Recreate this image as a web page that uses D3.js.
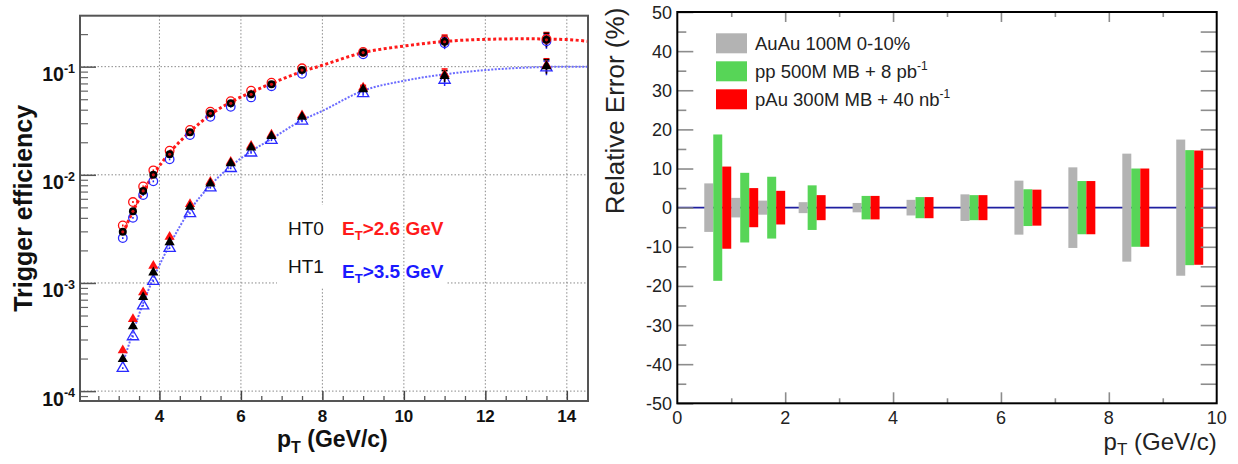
<!DOCTYPE html>
<html>
<head>
<meta charset="utf-8">
<script src="https://cdn.jsdelivr.net/npm/d3@7"></script>
<style>
  html, body { margin: 0; padding: 0; background: #fff; }
  svg { display: block; font-family: "Liberation Sans", Arial, Helvetica, sans-serif; }
</style>
</head>
<body>
<script>
// ---------- Left panel: trigger efficiency vs pT ----------
const ptHT = [3.1, 3.35, 3.6, 3.85, 4.25, 4.75, 5.25, 5.75, 6.25, 6.75, 7.5, 9, 11, 13.5];

const ht0Black = [2.97e-3, 4.6e-3, 7.1e-3, 1.0e-2, 1.55e-2, 2.47e-2, 3.7e-2, 4.58e-2, 5.55e-2, 6.87e-2, 9.3e-2, 0.135, 0.17, 0.177];
const ht0Red   = [3.4e-3, 5.6e-3, 7.8e-3, 1.1e-2, 1.67e-2, 2.6e-2, 3.83e-2, 4.8e-2, 6.0e-2, 7.1e-2, 9.66e-2, 0.137, 0.175, 0.18];
const ht0Blue  = [2.6e-3, 4.0e-3, 6.5e-3, 8.7e-3, 1.39e-2, 2.33e-2, 3.44e-2, 4.26e-2, 5.2e-2, 6.6e-2, 8.6e-2, 0.13, 0.165, 0.172];

const ht1Black = [1.98e-4, 3.97e-4, 7.4e-4, 1.25e-3, 2.38e-3, 5.06e-3, 8.3e-3, 1.28e-2, 1.79e-2, 2.28e-2, 3.44e-2, 6.18e-2, 8.2e-2, 0.101];
const ht1Red   = [2.38e-4, 4.64e-4, 8.2e-4, 1.44e-3, 2.67e-3, 5.36e-3, 8.6e-3, 1.32e-2, 1.85e-2, 2.35e-2, 3.55e-2, 6.4e-2, 8.5e-2, 0.103];
const ht1Blue  = [1.63e-4, 3.2e-4, 6.17e-4, 1.04e-3, 2.1e-3, 4.4e-3, 7.6e-3, 1.15e-2, 1.6e-2, 2.09e-2, 3.16e-2, 5.67e-2, 7.53e-2, 0.098];

// relative uncertainty of each point
const relErr = [0.02, 0.02, 0.02, 0.02, 0.02, 0.02, 0.02, 0.02, 0.02, 0.02, 0.03, 0.05, 0.12, 0.15];

// fitted turn-on curves
const fitPt  = [3.1, 3.35, 3.6, 3.85, 4.25, 4.75, 5.25, 5.75, 6.25, 6.75, 7.5, 8, 9, 10, 11, 12, 13, 14, 14.5];
const fitHT0 = [2.9e-3, 4.6e-3, 7.0e-3, 1.0e-2, 1.6e-2, 2.5e-2, 3.6e-2, 4.7e-2, 5.8e-2, 7.0e-2, 9.0e-2, 0.103, 0.135, 0.155, 0.171, 0.179, 0.181, 0.178, 0.172];
const fitHT1 = [1.8e-4, 3.5e-4, 6.5e-4, 1.1e-3, 2.25e-3, 4.7e-3, 8.0e-3, 1.2e-2, 1.65e-2, 2.15e-2, 3.2e-2, 3.9e-2, 6.0e-2, 7.4e-2, 8.5e-2, 9.3e-2, 9.8e-2, 1.0e-1, 1.0e-1];

const leftXTicks = [4, 6, 8, 10, 12, 14];
const leftYDecades = [1e-4, 1e-3, 1e-2, 1e-1];
const leftYExponents = ["-4", "-3", "-2", "-1"];

// ---------- Right panel: projected relative error ----------
const binCenters = [0.75, 1.25, 1.75, 2.5, 3.5, 4.5, 5.5, 6.5, 7.5, 8.5, 9.5];
const errAuAu = [6.2, 2.5, 1.8, 1.4, 1.2, 2.0, 3.4, 6.9, 10.3, 13.8, 17.4];
const errPP   = [18.7, 8.9, 7.9, 5.7, 3.0, 2.7, 3.2, 4.7, 6.8, 10.0, 14.7];
const errPAu  = [10.5, 5.0, 4.3, 3.2, 3.0, 2.7, 3.2, 4.6, 6.8, 10.0, 14.6];
const rightXTicks = [0, 2, 4, 6, 8, 10];
const rightYTicks = [-50, -40, -30, -20, -10, 0, 10, 20, 30, 40, 50];

const W = 1238, H = 464;
const svg = d3.select("body").append("svg").attr("width", W).attr("height", H);

// =============== LEFT PANEL ===============
const L = { x0: 80, x1: 588, y0: 15.7, y1: 401 };
const xL = d3.scaleLinear().domain([2.05, 14.52]).range([L.x0, L.x1]);
const yL = d3.scaleLog().domain([8.1e-5, 0.296]).range([L.y1, L.y0]);

const gL = svg.append("g");

// dotted grid
const gridStyle = sel => sel.attr("stroke", "#8a8a8a").attr("stroke-width", 1).attr("stroke-dasharray", "1.5,2");
gL.selectAll("line.gx").data(leftXTicks).join("line").attr("class", "gx")
  .attr("x1", d => xL(d)).attr("x2", d => xL(d)).attr("y1", L.y0).attr("y2", L.y1).call(gridStyle);
gL.selectAll("line.gy").data(leftYDecades).join("line").attr("class", "gy")
  .attr("x1", L.x0).attr("x2", L.x1).attr("y1", d => yL(d)).attr("y2", d => yL(d)).call(gridStyle);

// white panel behind the trigger labels
gL.append("rect").attr("x", 277).attr("y", 205).attr("width", 169).attr("height", 83).attr("fill", "#fff");
gL.append("line").attr("x1", xL(10)).attr("x2", xL(10)).attr("y1", 205).attr("y2", 288).call(gridStyle);

// y axis ticks (log: majors at decades, minors 2..9)
const minorY = [];
[1e-5, 1e-4, 1e-3, 1e-2, 1e-1].forEach(dec => {
  for (let k = 2; k <= 9; k++) {
    const v = dec * k;
    if (v > 8.1e-5 && v < 0.296) minorY.push(v);
  }
});
gL.append("g").attr("transform", `translate(${L.x0},0)`)
  .call(d3.axisRight(yL).tickValues(minorY).tickSize(8).tickFormat(""))
  .call(g => g.select(".domain").remove())
  .call(g => g.selectAll("line").attr("stroke", "#666").attr("stroke-width", 1.2));
gL.append("g").attr("transform", `translate(${L.x0},0)`)
  .call(d3.axisRight(yL).tickValues(leftYDecades).tickSize(16).tickFormat(""))
  .call(g => g.select(".domain").remove())
  .call(g => g.selectAll("line").attr("stroke", "#555").attr("stroke-width", 1.5));

// x axis ticks
const minorXL = d3.range(2.5, 14.51, 0.5).filter(v => v % 2 !== 0);
gL.append("g").attr("transform", `translate(0,${L.y1})`)
  .call(d3.axisTop(xL).tickValues(minorXL).tickSize(5).tickFormat(""))
  .call(g => g.select(".domain").remove())
  .call(g => g.selectAll("line").attr("stroke", "#555").attr("stroke-width", 1.3));
gL.append("g").attr("transform", `translate(0,${L.y1})`)
  .call(d3.axisTop(xL).tickValues(leftXTicks).tickSize(10).tickFormat(""))
  .call(g => g.select(".domain").remove())
  .call(g => g.selectAll("line").attr("stroke", "#444").attr("stroke-width", 1.5));

// frame
gL.append("rect").attr("x", L.x0).attr("y", L.y0).attr("width", L.x1 - L.x0).attr("height", L.y1 - L.y0)
  .attr("fill", "none").attr("stroke", "#555").attr("stroke-width", 2);

// tick labels
gL.selectAll("text.xl").data(leftXTicks).join("text").attr("class", "xl")
  .attr("x", d => xL(d)).attr("y", 422).attr("text-anchor", "middle")
  .attr("font-size", 17).attr("font-weight", "bold").attr("fill", "#111").text(d => d);
leftYDecades.forEach((d, i) => {
  const t = gL.append("text").attr("x", 75).attr("y", yL(d) + 14.5).attr("text-anchor", "end")
    .attr("font-weight", "bold").attr("fill", "#111").attr("font-size", 19.5);
  t.append("tspan").text("10");
  t.append("tspan").attr("font-size", 12.5).attr("dy", -8.5).text(leftYExponents[i]);
});

// axis titles
const xtL = gL.append("text").attr("x", 277).attr("y", 447).attr("font-size", 23).attr("font-weight", "bold").attr("fill", "#111");
xtL.append("tspan").text("p");
xtL.append("tspan").attr("font-size", 16).attr("dy", 6).text("T");
xtL.append("tspan").attr("dy", -6).text(" (GeV/c)");
gL.append("text").attr("transform", `translate(32,${(L.y0 + L.y1) / 2}) rotate(-90)`)
  .attr("text-anchor", "middle").attr("font-size", 25).attr("font-weight", "bold").attr("fill", "#111")
  .text("Trigger efficiency");

// fit curves
const fitLine = d3.line().x(d => xL(d[0])).y(d => yL(d[1])).curve(d3.curveMonotoneX);
gL.append("path").attr("d", fitLine(fitPt.map((p, i) => [p, fitHT1[i]])))
  .attr("fill", "none").attr("stroke", "#5b5bff").attr("stroke-width", 2).attr("stroke-dasharray", "2,1.5").attr("opacity", 0.9);
gL.append("path").attr("d", fitLine(fitPt.map((p, i) => [p, fitHT0[i]])))
  .attr("fill", "none").attr("stroke", "#ff1a1a").attr("stroke-width", 3).attr("stroke-dasharray", "3,2.5");

// error bars
function errBars(vals, color) {
  gL.append("g").selectAll("line").data(vals.map((v, i) => [ptHT[i], v, relErr[i]])).join("line")
    .attr("x1", d => xL(d[0])).attr("x2", d => xL(d[0]))
    .attr("y1", d => yL(d[1] * (1 + d[2]))).attr("y2", d => yL(d[1] * (1 - d[2])))
    .attr("stroke", color).attr("stroke-width", 1.5);
  gL.append("g").selectAll("line").data(vals.map((v, i) => [ptHT[i], v, relErr[i]]).filter(d => d[2] > 0.04)).join("line")
    .attr("x1", d => xL(d[0]) - 3).attr("x2", d => xL(d[0]) + 3)
    .attr("y1", d => yL(d[1] * (1 + d[2]))).attr("y2", d => yL(d[1] * (1 + d[2])))
    .attr("stroke", color).attr("stroke-width", 1.5);
}
errBars(ht0Blue, "#2222ff"); errBars(ht0Red, "#ff0000"); errBars(ht0Black, "#000");
errBars(ht1Blue, "#2222ff"); errBars(ht1Red, "#ff0000"); errBars(ht1Black, "#000");

// HT0 markers: circles
const circ = (vals, r, fill, stroke, sw) =>
  gL.append("g").selectAll("circle").data(vals).join("circle")
    .attr("cx", (d, i) => xL(ptHT[i])).attr("cy", d => yL(d)).attr("r", r)
    .attr("fill", fill).attr("stroke", stroke).attr("stroke-width", sw);
circ(ht0Blue, 4.3, "none", "#2a2aff", 1.3);
circ(ht0Red, 4.3, "none", "#ff1010", 1.3);
circ(ht0Black, 4, "#000", "none", 0);
circ(ht0Black, 1.6, "#d01010", "none", 0);

// HT1 markers: triangles
const tri = d3.symbol().type(d3.symbolTriangle);
const triMarks = (vals, size, fill, stroke, sw) =>
  gL.append("g").selectAll("path").data(vals).join("path")
    .attr("transform", (d, i) => `translate(${xL(ptHT[i])},${yL(d)})`)
    .attr("d", tri.size(size)())
    .attr("fill", fill).attr("stroke", stroke).attr("stroke-width", sw);
triMarks(ht1Blue, 55, "none", "#2a2aff", 1.3);
triMarks(ht1Red, 45, "#ff1010", "none", 0);
triMarks(ht1Black, 45, "#000", "none", 0);

// trigger labels
gL.append("text").attr("x", 288).attr("y", 235).attr("font-size", 19).attr("fill", "#111").text("HT0");
gL.append("text").attr("x", 288).attr("y", 273).attr("font-size", 19).attr("fill", "#111").text("HT1");
function etLabel(y, txt, color) {
  const t = gL.append("text").attr("x", 342).attr("y", y).attr("font-size", 19).attr("font-weight", "bold").attr("fill", color);
  t.append("tspan").text("E");
  t.append("tspan").attr("font-size", 13).attr("dy", 5).text("T");
  t.append("tspan").attr("dy", -5).text(txt);
}
etLabel(235, ">2.6 GeV", "#ff1a1a");
etLabel(278, ">3.5 GeV", "#1a1aff");

// =============== RIGHT PANEL ===============
const R = { x0: 677.3, x1: 1216.7, y0: 12, y1: 403.3 };
const xR = d3.scaleLinear().domain([0, 10]).range([R.x0, R.x1]);
const yR = d3.scaleLinear().domain([-50, 50]).range([R.y1, R.y0]);
const gR = svg.append("g");

// zero line
gR.append("line").attr("x1", R.x0).attr("x2", R.x1).attr("y1", yR(0)).attr("y2", yR(0))
  .attr("stroke", "#1f1fa0").attr("stroke-width", 1.6);

// bars: each group is 0.5 wide, split in three
const groupW = 0.5, barW = groupW / 3;
const seriesR = [
  { vals: errAuAu, color: "#b3b3b3", k: 0 },
  { vals: errPP,   color: "#57d557", k: 1 },
  { vals: errPAu,  color: "#ff0000", k: 2 },
];
seriesR.forEach(s => {
  gR.append("g").selectAll("rect").data(s.vals).join("rect")
    .attr("x", (d, i) => xR(binCenters[i] - groupW / 2 + s.k * barW))
    .attr("width", (d, i) => xR(binCenters[i] - groupW / 2 + (s.k + 1) * barW) - xR(binCenters[i] - groupW / 2 + s.k * barW))
    .attr("y", d => yR(d)).attr("height", d => yR(-d) - yR(d))
    .attr("fill", s.color);
});

// ticks
const tickCol = sel => sel.selectAll("line").attr("stroke", "#8c8c8c").attr("stroke-width", 1.6);
const minorYR = d3.range(-45, 50, 10);
gR.append("g").attr("transform", `translate(${R.x0},0)`)
  .call(d3.axisRight(yR).tickValues(rightYTicks).tickSize(16).tickFormat("")).call(g => g.select(".domain").remove()).call(tickCol);
gR.append("g").attr("transform", `translate(${R.x0},0)`)
  .call(d3.axisRight(yR).tickValues(minorYR).tickSize(9).tickFormat("")).call(g => g.select(".domain").remove()).call(tickCol);
gR.append("g").attr("transform", `translate(${R.x1},0)`)
  .call(d3.axisLeft(yR).tickValues(d3.range(-45, 50, 5)).tickSize(16).tickFormat("")).call(g => g.select(".domain").remove()).call(tickCol);
const minorXR = [1, 3, 5, 7, 9];
gR.append("g").attr("transform", `translate(0,${R.y0})`)
  .call(d3.axisBottom(xR).tickValues([2, 4, 6, 8]).tickSize(10).tickFormat("")).call(g => g.select(".domain").remove()).call(tickCol);
gR.append("g").attr("transform", `translate(0,${R.y0})`)
  .call(d3.axisBottom(xR).tickValues(minorXR).tickSize(5).tickFormat("")).call(g => g.select(".domain").remove()).call(tickCol);
gR.append("g").attr("transform", `translate(0,${R.y1})`)
  .call(d3.axisTop(xR).tickValues([2, 4, 6, 8]).tickSize(11).tickFormat("")).call(g => g.select(".domain").remove()).call(tickCol);
gR.append("g").attr("transform", `translate(0,${R.y1})`)
  .call(d3.axisTop(xR).tickValues(minorXR).tickSize(5).tickFormat("")).call(g => g.select(".domain").remove()).call(tickCol);

// frame
gR.append("rect").attr("x", R.x0).attr("y", R.y0).attr("width", R.x1 - R.x0).attr("height", R.y1 - R.y0)
  .attr("fill", "none").attr("stroke", "#000").attr("stroke-width", 2);

// tick labels
gR.selectAll("text.yl").data(rightYTicks).join("text").attr("class", "yl")
  .attr("x", 672).attr("y", d => yR(d) + 6.5).attr("text-anchor", "end")
  .attr("font-size", 18).attr("fill", "#222").text(d => d);
gR.selectAll("text.xl").data(rightXTicks).join("text").attr("class", "xl")
  .attr("x", d => xR(d)).attr("y", 424).attr("text-anchor", "middle")
  .attr("font-size", 18).attr("fill", "#222").text(d => d);

// axis titles
const xtR = gR.append("text").attr("x", R.x1).attr("y", 450).attr("text-anchor", "end").attr("font-size", 24).attr("fill", "#222");
xtR.append("tspan").text("p");
xtR.append("tspan").attr("font-size", 17).attr("dy", 5).text("T");
xtR.append("tspan").attr("dy", -5).text(" (GeV/c)");
gR.append("text").attr("transform", "translate(624,111) rotate(-90)")
  .attr("text-anchor", "middle").attr("font-size", 26).attr("fill", "#222").text("Relative Error (%)");

// legend
const legendR = [
  { color: "#b3b3b3", main: "AuAu 100M 0-10%", sup: "" },
  { color: "#57d557", main: "pp 500M MB + 8 pb", sup: "-1" },
  { color: "#ff0000", main: "pAu 300M MB + 40 nb", sup: "-1" },
];
legendR.forEach((e, i) => {
  const yc = 43.3 + i * 28;
  gR.append("rect").attr("x", 716).attr("y", yc - 10).attr("width", 31).attr("height", 20).attr("fill", e.color);
  const t = gR.append("text").attr("x", 755).attr("y", yc + 6.8).attr("font-size", 18.5).attr("fill", "#222");
  t.append("tspan").text(e.main);
  if (e.sup) t.append("tspan").attr("font-size", 12).attr("dy", -8).text(e.sup);
});
</script>
</body>
</html>
